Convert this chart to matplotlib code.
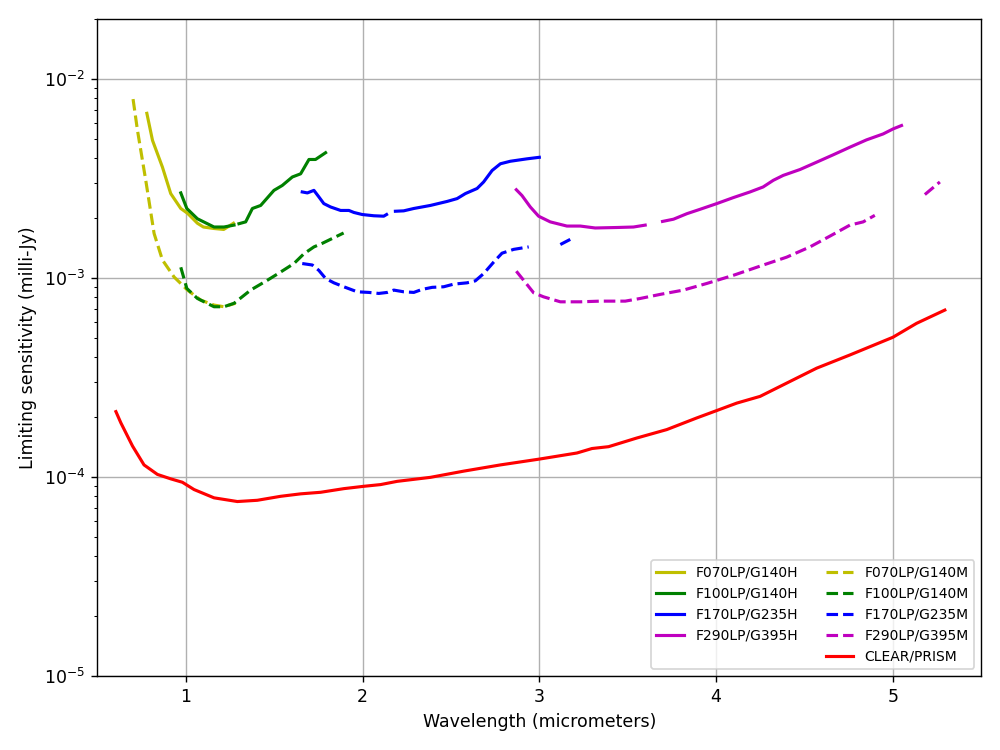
import numpy as np
import matplotlib
matplotlib.use('Agg')
import matplotlib.pyplot as plt
from matplotlib.lines import Line2D

nan = np.nan

# F070LP/G140H
wl_070h = [0.780, 0.812, 0.868, 0.915, 0.972, 1.01, 1.066, 1.10, 1.158, 1.215, 1.27]
s_070h = [6.7e-3, 4.9e-3, 3.6e-3, 2.65e-3, 2.23e-3, 2.11e-3, 1.88e-3, 1.80e-3, 1.77e-3, 1.75e-3, 1.88e-3]

# F070LP/G140M
wl_070m = [0.702, 0.727, 0.774, 0.821, 0.868, 0.934, 1.01, 1.085, 1.160, 1.216, 1.282]
s_070m = [7.9e-3, 5.5e-3, 3.08e-3, 1.67e-3, 1.23e-3, 1.01e-3, 8.68e-4, 7.73e-4, 7.30e-4, 7.16e-4, 7.46e-4]

# F100LP/G140H
wl_100h = [0.972, 1.006, 1.066, 1.160, 1.216, 1.273, 1.287, 1.301, 1.339, 1.377, 1.424,
           1.499, 1.546, 1.603, 1.650, 1.697, 1.734, 1.791]
s_100h = [2.67e-3, 2.23e-3, 1.98e-3, 1.80e-3, 1.80e-3, 1.84e-3, nan, 1.87e-3, 1.91e-3, 2.23e-3, 2.31e-3,
          2.75e-3, 2.91e-3, 3.21e-3, 3.33e-3, 3.93e-3, 3.93e-3, 4.25e-3]

# F100LP/G140M
wl_100m = [0.972, 1.006, 1.066, 1.160, 1.216, 1.273, 1.367, 1.462, 1.537, 1.612, 1.668,
           1.725, 1.772, 1.893]
s_100m = [1.13e-3, 8.85e-4, 7.88e-4, 7.16e-4, 7.16e-4, 7.45e-4, 8.68e-4, 9.73e-4, 1.07e-3, 1.18e-3, 1.32e-3,
          1.43e-3, 1.49e-3, 1.68e-3]

# F170LP/G235H
wl_170h = [1.659, 1.688, 1.725, 1.753, 1.781, 1.819, 1.876, 1.923, 1.951, 1.998, 2.064, 2.120, 2.136,
           2.16, 2.186, 2.233, 2.290, 2.384, 2.479, 2.535, 2.582, 2.648, 2.685, 2.733, 2.780,
           2.836, 2.931, 3.0]
s_170h = [2.70e-3, 2.67e-3, 2.75e-3, 2.55e-3, 2.36e-3, 2.27e-3, 2.18e-3, 2.18e-3, 2.13e-3, 2.08e-3, 2.05e-3, 2.04e-3, 2.08e-3,
          nan, 2.16e-3, 2.17e-3, 2.23e-3, 2.31e-3, 2.42e-3, 2.50e-3, 2.65e-3, 2.81e-3, 3.03e-3, 3.46e-3, 3.74e-3,
          3.85e-3, 3.96e-3, 4.03e-3]

# F170LP/G235M
wl_170m = [1.659, 1.716, 1.753, 1.791, 1.838, 1.894, 1.970, 2.036, 2.092, 2.140, 2.177, 2.233, 2.290,
           2.337, 2.394, 2.459, 2.516, 2.591, 2.638, 2.685, 2.742, 2.789, 2.855, 2.940,
           3.03, 3.119, 3.175]
s_170m = [1.18e-3, 1.16e-3, 1.09e-3, 9.93e-4, 9.44e-4, 9.02e-4, 8.51e-4, 8.45e-4, 8.35e-4, 8.45e-4, 8.68e-4, 8.51e-4, 8.45e-4,
          8.75e-4, 8.96e-4, 9.02e-4, 9.30e-4, 9.44e-4, 9.66e-4, 1.05e-3, 1.20e-3, 1.33e-3, 1.39e-3, 1.43e-3,
          nan, 1.47e-3, 1.56e-3]

# F290LP/G395H
wl_290h = [2.870, 2.902, 2.949, 2.996, 3.062, 3.156, 3.232, 3.316, 3.439, 3.533, 3.599,
           3.65, 3.697, 3.759, 3.835, 3.910, 4.004, 4.098, 4.192, 4.266, 4.324, 4.380, 4.475,
           4.569, 4.663, 4.757, 4.851, 4.945, 5.002, 5.049]
s_290h = [2.77e-3, 2.59e-3, 2.27e-3, 2.04e-3, 1.91e-3, 1.82e-3, 1.82e-3, 1.78e-3, 1.79e-3, 1.80e-3, 1.84e-3,
          nan, 1.92e-3, 1.97e-3, 2.10e-3, 2.21e-3, 2.36e-3, 2.53e-3, 2.70e-3, 2.86e-3, 3.09e-3, 3.27e-3, 3.50e-3,
          3.81e-3, 4.15e-3, 4.53e-3, 4.93e-3, 5.28e-3, 5.60e-3, 5.82e-3]

# F290LP/G395M
wl_290m = [2.870, 2.911, 2.968, 3.024, 3.119, 3.232, 3.345, 3.486, 3.571, 3.684, 3.815, 3.947,
           4.098, 4.267, 4.399, 4.531, 4.644, 4.757, 4.832, 4.898, 5.04, 5.181, 5.266]
s_290m = [1.08e-3, 9.73e-4, 8.41e-4, 8.03e-4, 7.58e-4, 7.58e-4, 7.64e-4, 7.64e-4, 7.88e-4, 8.26e-4, 8.68e-4, 9.37e-4,
          1.03e-3, 1.16e-3, 1.27e-3, 1.43e-3, 1.62e-3, 1.84e-3, 1.91e-3, 2.06e-3, nan, 2.62e-3, 3.03e-3]

# CLEAR/PRISM
wl_prism = [0.605, 0.633, 0.699, 0.764, 0.840, 0.915, 0.981, 1.047, 1.160, 1.292, 1.405, 1.537,
            1.650, 1.763, 1.894, 2.007, 2.102, 2.196, 2.384, 2.572, 2.780, 3.0, 3.213, 3.298,
            3.392, 3.552, 3.721, 3.891, 4.0, 4.117, 4.249, 4.399, 4.569, 4.757, 5.0, 5.134, 5.294]
s_prism = [2.13e-4, 1.87e-4, 1.43e-4, 1.15e-4, 1.03e-4, 9.79e-5, 9.41e-5, 8.65e-5, 7.86e-5, 7.53e-5, 7.64e-5, 8.00e-5,
           8.23e-5, 8.38e-5, 8.74e-5, 8.98e-5, 9.16e-5, 9.51e-5, 9.96e-5, 1.07e-4, 1.15e-4, 1.23e-4, 1.32e-4, 1.39e-4,
           1.42e-4, 1.57e-4, 1.73e-4, 1.98e-4, 2.15e-4, 2.35e-4, 2.54e-4, 2.96e-4, 3.52e-4, 4.10e-4, 5.03e-4, 5.91e-4, 6.89e-4]

fig = plt.figure(figsize=(8, 6), dpi=125)
ax = fig.add_subplot(111)

lw = 1.8
h1, = ax.plot(wl_070h, s_070h, 'y-', lw=lw, label='F070LP/G140H')
m1, = ax.plot(wl_070m, s_070m, 'y--', lw=lw, label='F070LP/G140M')
h2, = ax.plot(wl_100h, s_100h, 'g-', lw=lw, label='F100LP/G140H')
m2, = ax.plot(wl_100m, s_100m, 'g--', lw=lw, label='F100LP/G140M')
h3, = ax.plot(wl_170h, s_170h, 'b-', lw=lw, label='F170LP/G235H')
m3, = ax.plot(wl_170m, s_170m, 'b--', lw=lw, label='F170LP/G235M')
h4, = ax.plot(wl_290h, s_290h, 'm-', lw=lw, label='F290LP/G395H')
m4, = ax.plot(wl_290m, s_290m, 'm--', lw=lw, label='F290LP/G395M')
pr, = ax.plot(wl_prism, s_prism, 'r-', lw=lw, label='CLEAR/PRISM')

# blank slot so the first legend column holds only the H gratings
blank = Line2D([], [], color='none')
handles = [h1, h2, h3, h4, blank, m1, m2, m3, m4, pr]
labels = [h.get_label() for h in [h1, h2, h3, h4]] + [' '] + \
         [h.get_label() for h in [m1, m2, m3, m4, pr]]

ax.set_yscale('log')
ax.set_xlim(0.5, 5.5)
ax.set_ylim(1e-5, 2e-2)
ax.grid(True)
ax.set_xlabel('Wavelength (micrometers)')
ax.set_ylabel('Limiting sensitivity (milli-Jy)')
ax.legend(handles, labels, loc='lower right', ncol=2, fontsize=8)

fig.tight_layout()
fig.savefig('out.png', dpi=125)
